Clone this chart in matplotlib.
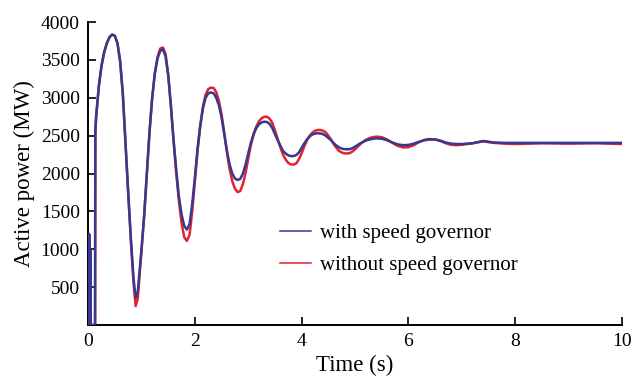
import matplotlib
matplotlib.use("Agg")
import matplotlib.pyplot as plt

# -----------------------------
# Data
# -----------------------------
time_s = [
    0.00, 0.01, 0.02, 0.03, 0.04, 0.05, 0.13, 0.135,
    0.15, 0.20, 0.25, 0.30, 0.35, 0.40, 0.45, 0.50, 0.55, 0.60,
    0.65, 0.70, 0.75, 0.80, 0.85, 0.89, 0.93, 0.97, 1.00, 1.05,
    1.10, 1.15, 1.20, 1.25, 1.30, 1.35, 1.40, 1.45, 1.50, 1.55,
    1.60, 1.65, 1.70, 1.75, 1.80, 1.85, 1.90, 1.95, 2.00, 2.05,
    2.10, 2.15, 2.20, 2.25, 2.30, 2.35, 2.40, 2.45, 2.50, 2.55,
    2.60, 2.65, 2.70, 2.75, 2.80, 2.85, 2.90, 2.95, 3.00, 3.05,
    3.10, 3.15, 3.20, 3.25, 3.30, 3.35, 3.40, 3.45, 3.50, 3.55,
    3.60, 3.65, 3.70, 3.75, 3.80, 3.85, 3.90, 3.95, 4.00, 4.05,
    4.10, 4.15, 4.20, 4.25, 4.30, 4.35, 4.40, 4.45, 4.50, 4.55,
    4.60, 4.65, 4.70, 4.75, 4.80, 4.85, 4.90, 4.95, 5.00,
    5.1, 5.2, 5.3, 5.4, 5.5, 5.6, 5.7, 5.8, 5.9, 6.0,
    6.1, 6.2, 6.3, 6.4, 6.5, 6.6, 6.7, 6.8, 6.9, 7.0,
    7.2, 7.4, 7.6, 7.8, 8.0, 8.5, 9.0, 9.5, 10.0,
]

power_with_gov = [
    1200, 0, 1200, 0, 1000, 0, 0, 2550,
    2750, 3150, 3420, 3600, 3720, 3800, 3835, 3820, 3720, 3480,
    3050, 2400, 1750, 1150, 620, 360, 440, 760, 1000, 1450,
    2000, 2550, 3000, 3320, 3520, 3620, 3640, 3550, 3300, 2900,
    2450, 2050, 1700, 1460, 1310, 1260, 1330, 1600, 1950, 2330,
    2630, 2860, 3000, 3060, 3070, 3060, 3000, 2900, 2740, 2520,
    2300, 2120, 2000, 1935, 1915, 1930, 2000, 2120, 2270, 2410,
    2520, 2600, 2650, 2675, 2685, 2680, 2655, 2600, 2520, 2440,
    2370, 2300, 2265, 2240, 2230, 2232, 2245, 2280, 2340, 2400,
    2450, 2490, 2515, 2528, 2532, 2530, 2520, 2500, 2470, 2440,
    2400, 2370, 2345, 2330, 2322, 2320, 2322, 2335, 2355,
    2400, 2435, 2455, 2465, 2460, 2440, 2410, 2385, 2375, 2378,
    2395, 2420, 2440, 2450, 2450, 2435, 2410, 2395, 2390, 2390,
    2400, 2430, 2410, 2405, 2405, 2405, 2405, 2405, 2405,
]

power_without_gov = [
    1200, 0, 1200, 0, 1000, 0, 0, 2550,
    2750, 3150, 3420, 3600, 3720, 3800, 3835, 3820, 3720, 3480,
    3050, 2400, 1730, 1120, 560, 250, 350, 710, 980, 1440,
    1990, 2550, 3000, 3330, 3540, 3650, 3665, 3580, 3310, 2900,
    2430, 2010, 1640, 1350, 1160, 1110, 1190, 1500, 1900, 2300,
    2630, 2880, 3040, 3115, 3135, 3130, 3075, 2960, 2780, 2540,
    2280, 2060, 1900, 1800, 1755, 1770, 1860, 2010, 2200, 2380,
    2520, 2620, 2690, 2730, 2750, 2750, 2725, 2670, 2570, 2460,
    2350, 2250, 2185, 2140, 2120, 2118, 2135, 2190, 2270, 2360,
    2440, 2500, 2540, 2565, 2575, 2575, 2565, 2545, 2500, 2450,
    2390, 2340, 2300, 2278, 2267, 2265, 2270, 2290, 2320,
    2390, 2445, 2475, 2488, 2480, 2450, 2405, 2365, 2345, 2348,
    2375, 2415, 2445, 2455, 2450, 2430, 2400, 2380, 2375, 2380,
    2400, 2425, 2405, 2395, 2390, 2400, 2395, 2400, 2390,
]

x_ticks = [0, 2, 4, 6, 8, 10]
y_ticks = [500, 1000, 1500, 2000, 2500, 3000, 3500, 4000]

# -----------------------------
# Figure
# -----------------------------
plt.rcParams["font.family"] = ["Liberation Serif", "DejaVu Serif"]

fig = plt.figure(figsize=(6.34, 3.81), dpi=100)
ax = fig.add_axes([0.139, 0.147, 0.842, 0.795])

ax.plot(time_s, power_without_gov, color="#e0232e", lw=1.8,
        label="without speed governor", zorder=2)
ax.plot(time_s, power_with_gov, color="#38388f", lw=1.8,
        label="with speed governor", zorder=3)

ax.set_xlim(0, 10)
ax.set_ylim(0, 4000)
ax.set_xticks(x_ticks)
ax.set_yticks(y_ticks)
ax.tick_params(direction="in", length=6, width=1.2, labelsize=14, pad=6)
for side in ["top", "right"]:
    ax.spines[side].set_visible(False)
for side in ["left", "bottom"]:
    ax.spines[side].set_linewidth(1.4)

ax.set_xlabel("Time (s)", fontsize=16.5, labelpad=3)
ax.set_ylabel("Active power (MW)", fontsize=16.5, labelpad=4)

handles, labels = ax.get_legend_handles_labels()
leg = ax.legend(handles[::-1], labels[::-1], loc="upper left",
                bbox_to_anchor=(0.34, 0.37), frameon=False, fontsize=15,
                handlelength=1.5, handletextpad=0.4, labelspacing=0.6,
                borderpad=0)
for line in leg.get_lines():
    line.set_linewidth(1.1)

fig.savefig("out.png", dpi=100)
